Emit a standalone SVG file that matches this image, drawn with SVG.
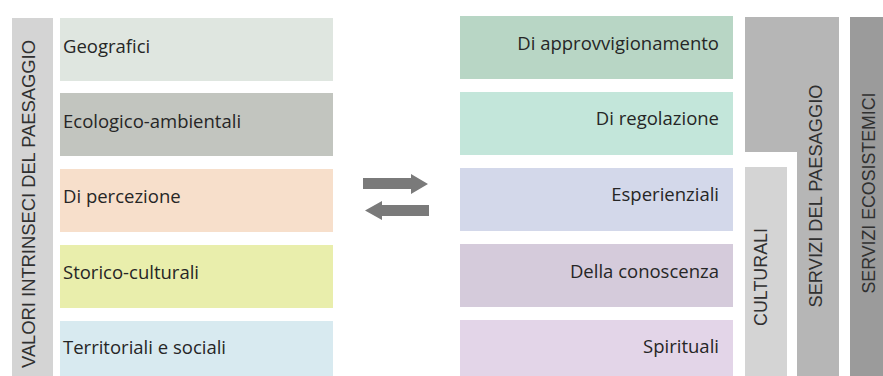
<svg xmlns="http://www.w3.org/2000/svg" width="883" height="376" viewBox="0 0 883 376">
  <style>
    .lbl { font-family: "Open Sans", "Noto Sans", "Liberation Sans", sans-serif; font-size: 18.5px; fill: #262626; }
    .end { text-anchor: end; }
    .vt { font-family: "Liberation Sans", "DejaVu Sans", sans-serif; font-size: 19px; fill: #303030; text-anchor: middle; }
    .arrow { fill: #7a7a7a; }
  </style>
  <rect width="883" height="376" fill="#ffffff"/>

  <!-- left side: intrinsic values -->
  <g id="valori-intrinseci">
    <rect x="12" y="18" width="41" height="358" fill="#d4d4d4"/>
    <text class="vt" transform="translate(35,204) rotate(-90)" textLength="328" lengthAdjust="spacingAndGlyphs">VALORI INTRINSECI DEL PAESAGGIO</text>
  </g>
  <g id="geografici">
    <rect x="60" y="18" width="273" height="63" fill="#dfe6e0"/>
    <text class="lbl" x="63" y="53">Geografici</text>
  </g>
  <g id="ecologico-ambientali">
    <rect x="60" y="93" width="273" height="63" fill="#c2c5bf"/>
    <text class="lbl" x="63" y="128">Ecologico-ambientali</text>
  </g>
  <g id="di-percezione">
    <rect x="60" y="169" width="273" height="63" fill="#f7dfcb"/>
    <text class="lbl" x="63" y="203">Di percezione</text>
  </g>
  <g id="storico-culturali">
    <rect x="60" y="245" width="273" height="63" fill="#e9eeac"/>
    <text class="lbl" x="63" y="279">Storico-culturali</text>
  </g>
  <g id="territoriali-sociali">
    <rect x="60" y="321" width="273" height="63" fill="#d8eaf0"/>
    <text class="lbl" x="63" y="354">Territoriali e sociali</text>
  </g>

  <!-- exchange arrows -->
  <g id="connectors">
    <polygon class="arrow" points="363,178 411,178 411,174 428,184 411,194 411,189 363,189"/>
    <polygon class="arrow" points="429,205 382,205 382,201 365,210.5 382,220 382,216 429,216"/>
  </g>

  <!-- right side: services -->
  <g id="approvvigionamento">
    <rect x="460" y="16" width="273" height="63" fill="#b8d6c5"/>
    <text class="lbl end" x="719" y="50">Di approvvigionamento</text>
  </g>
  <g id="regolazione">
    <rect x="460" y="92" width="273" height="63" fill="#c3e6da"/>
    <text class="lbl end" x="719" y="125">Di regolazione</text>
  </g>
  <g id="esperienziali">
    <rect x="460" y="168" width="273" height="63" fill="#d3d8ea"/>
    <text class="lbl end" x="719" y="201">Esperienziali</text>
  </g>
  <g id="conoscenza">
    <rect x="460" y="244" width="273" height="63" fill="#d5cbdb"/>
    <text class="lbl end" x="719" y="278">Della conoscenza</text>
  </g>
  <g id="spirituali">
    <rect x="460" y="320" width="273" height="63" fill="#e3d5e8"/>
    <text class="lbl end" x="719" y="353">Spirituali</text>
  </g>

  <g id="culturali">
    <rect x="745" y="167" width="42" height="209" fill="#d4d4d4"/>
    <text class="vt" transform="translate(767,277) rotate(-90)" textLength="98" lengthAdjust="spacingAndGlyphs">CULTURALI</text>
  </g>
  <g id="servizi-paesaggio">
    <path d="M745,17 H839 V376 H797 V152 H745 Z" fill="#b6b6b6"/>
    <text class="vt" transform="translate(822,196) rotate(-90)" textLength="223" lengthAdjust="spacingAndGlyphs">SERVIZI DEL PAESAGGIO</text>
  </g>
  <g id="servizi-ecosistemici">
    <rect x="850" y="17" width="33" height="359" fill="#9b9b9b"/>
    <text class="vt" transform="translate(875,193) rotate(-90)" textLength="201" lengthAdjust="spacingAndGlyphs">SERVIZI ECOSISTEMICI</text>
  </g>
</svg>
